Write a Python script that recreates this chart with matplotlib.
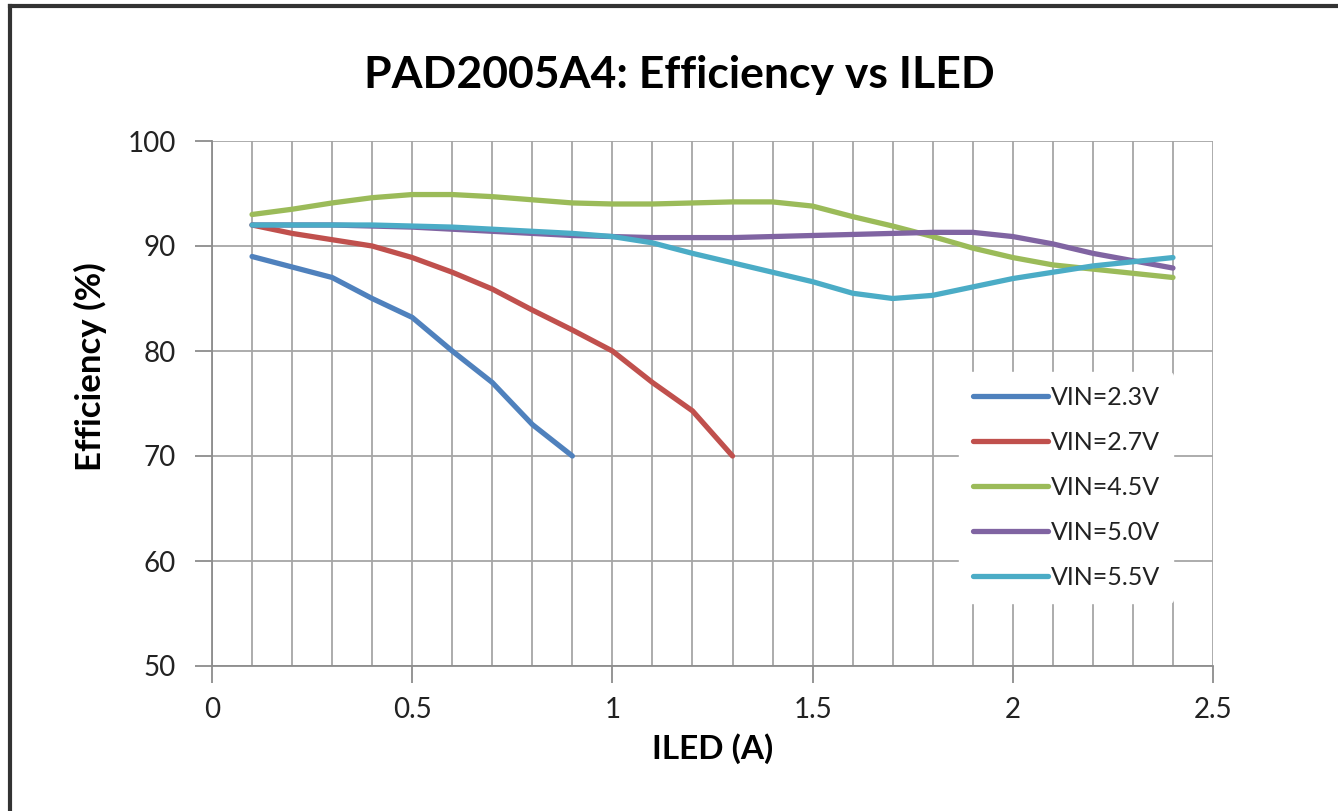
import matplotlib
matplotlib.use("Agg")
import matplotlib.pyplot as plt
from matplotlib.lines import Line2D
from matplotlib.ticker import MultipleLocator

plt.rcParams["font.family"] = ["Lato", "DejaVu Sans"]

# ILED (A) sample points and efficiency (%)
iled_23 = [0.1, 0.2, 0.3, 0.4, 0.5, 0.6, 0.7, 0.8, 0.9]
eff_23 = [89.0, 88.0, 87.0, 85.0, 83.2, 80.0, 77.0, 73.0, 70.0]

iled_27 = [0.1, 0.2, 0.3, 0.4, 0.5, 0.6, 0.7, 0.8, 0.9, 1.0, 1.1, 1.2, 1.3]
eff_27 = [92.0, 91.2, 90.6, 90.0, 88.9, 87.5, 85.9, 83.9, 82.0, 80.0, 77.0, 74.3, 70.0]

iled_hi = [0.1, 0.2, 0.3, 0.4, 0.5, 0.6, 0.7, 0.8, 0.9, 1.0, 1.1, 1.2,
           1.3, 1.4, 1.5, 1.6, 1.7, 1.8, 1.9, 2.0, 2.1, 2.2, 2.3, 2.4]
eff_45 = [93.0, 93.5, 94.1, 94.6, 94.9, 94.9, 94.7, 94.4, 94.1, 94.0, 94.0, 94.1,
          94.2, 94.2, 93.8, 92.8, 91.9, 90.9, 89.8, 88.9, 88.2, 87.8, 87.4, 87.0]
eff_50 = [92.0, 92.0, 92.0, 91.9, 91.8, 91.6, 91.4, 91.2, 91.0, 90.9, 90.8, 90.8,
          90.8, 90.9, 91.0, 91.1, 91.2, 91.3, 91.3, 90.9, 90.2, 89.3, 88.6, 87.9]
eff_55 = [92.0, 92.0, 92.0, 92.0, 91.9, 91.8, 91.6, 91.4, 91.2, 90.9, 90.3, 89.3,
          88.4, 87.5, 86.6, 85.5, 85.0, 85.3, 86.1, 86.9, 87.5, 88.1, 88.5, 88.9]

x_ticks = [0, 0.5, 1, 1.5, 2, 2.5]
x_tick_labels = ["0", "0.5", "1", "1.5", "2", "2.5"]
y_ticks = [50, 60, 70, 80, 90, 100]

series = [
    ("VIN=2.3V", iled_23, eff_23, "#4f81bd"),
    ("VIN=2.7V", iled_27, eff_27, "#c0504d"),
    ("VIN=4.5V", iled_hi, eff_45, "#9bbb59"),
    ("VIN=5.0V", iled_hi, eff_50, "#8064a2"),
    ("VIN=5.5V", iled_hi, eff_55, "#4bacc6"),
]

fig = plt.figure(figsize=(13.38, 8.11), dpi=100)
ax = fig.add_axes([212 / 1338, 1 - 666 / 811, 1001 / 1338, 525 / 811])

for label, xs, ys, color in series:
    ax.plot(xs, ys, color=color, linewidth=3.8, label=label,
            solid_joinstyle="round", solid_capstyle="round")

ax.set_xlim(0, 2.5)
ax.set_ylim(50, 100)
ax.set_xticks(x_ticks, x_tick_labels)
ax.set_yticks(y_ticks)
ax.xaxis.set_minor_locator(MultipleLocator(0.1))
ax.grid(which="both", axis="x", color="#a6a6a6", linewidth=1.3)
ax.grid(which="major", axis="y", color="#a6a6a6", linewidth=1.3)
ax.set_axisbelow(True)
for side in ("top", "right"):
    ax.spines[side].set_visible(False)
for side in ("left", "bottom"):
    ax.spines[side].set_color("#8c8c8c")
    ax.spines[side].set_linewidth(1.3)
ax.tick_params(which="major", direction="out", length=12, width=1.3,
               color="#8c8c8c", labelsize=20, labelcolor="#222222")
ax.tick_params(axis="y", pad=14)
ax.tick_params(axis="x", pad=10)
ax.tick_params(which="minor", length=0)

ax.set_xlabel("ILED (A)", fontsize=24, fontweight="bold", labelpad=8)
ax.set_ylabel("Efficiency (%)", fontsize=25, fontweight="bold")
ax.yaxis.set_label_coords(-0.105, 0.571)
fig.text(0.508, 0.908, "PAD2005A4: Efficiency vs ILED", ha="center", va="center",
         fontsize=32, fontweight="bold")

leg = ax.legend(loc="upper left", bbox_to_anchor=(0.734, 0.583), frameon=True,
                fontsize=18, handlelength=3.0, handletextpad=0.1,
                labelspacing=0.88, borderpad=0.55)
leg.get_frame().set_facecolor("white")
leg.get_frame().set_edgecolor("white")
leg.get_frame().set_alpha(1.0)
for text in leg.get_texts():
    text.set_color("#222222")

# outer chart frame, dark on the left and top like the screenshot
fig.add_artist(Line2D([10 / 1338, 10 / 1338], [0, 1 - 6 / 811], color="#333333",
                      linewidth=3, transform=fig.transFigure))
fig.add_artist(Line2D([10 / 1338, 1], [1 - 6 / 811, 1 - 6 / 811], color="#333333",
                      linewidth=3, transform=fig.transFigure))

fig.savefig("out.png", dpi=100)
